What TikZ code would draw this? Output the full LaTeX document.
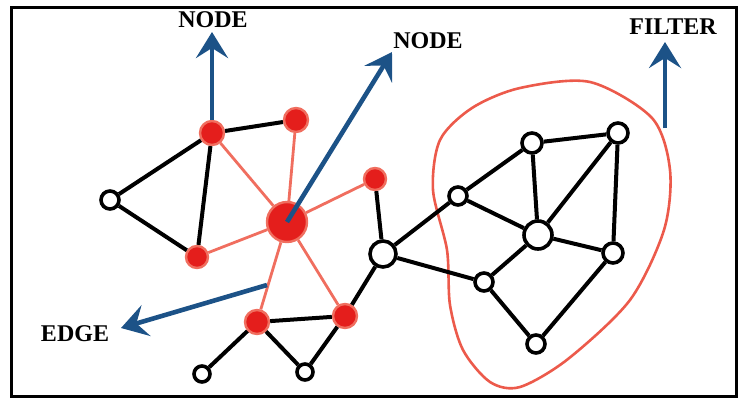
\documentclass[tikz,border=0pt]{standalone}
\usepackage{fontspec}
\setmainfont{Liberation Serif}
\usetikzlibrary{arrows.meta}
\definecolor{nodered}{RGB}{228,30,28}
\definecolor{edgered}{RGB}{240,110,95}
\definecolor{arrowblue}{RGB}{28,82,135}
\definecolor{filterred}{RGB}{236,90,75}
\tikzset{
  plain/.style={circle, draw=black, line width=3.6pt, fill=white, inner sep=0pt, minimum size=#1},
  hot/.style={circle, draw=edgered, line width=2.4pt, fill=nodered, inner sep=0pt, minimum size=#1},
  tag/.style={font=\bfseries\fontsize{24}{24}\selectfont, inner sep=0pt},
  pointer/.style={arrowblue, line width=4.6pt, -{Stealth[length=26pt, width=32pt, inset=10pt]}},
}
\begin{document}
\begin{tikzpicture}[x=1pt, y=-1pt]
      \useasboundingbox (0,0) rectangle (738,399);
      \draw[line width=3pt] (11,7) rectangle (736,396);
      % filter region
      \draw[filterred, line width=2.6pt] plot[smooth cycle] coordinates {
        (440,140) (433,190) (447,250) (450,305) (463,350) (490,382)
        (520,387) (568,359) (630,300) (664,230) (670,170) (652,118)
        (590,82) (520,88) (472,108)};
      \draw
        (212,133) node[hot=24pt] (r1){}
        (296,120) node[hot=24pt] (r2){}
        (287,222) node[hot=40pt] (rc){}
        (375,179) node[hot=22pt] (r3){}
        (197,257) node[hot=22pt] (r4){}
        (257,322) node[hot=24pt] (r5){}
        (345,316) node[hot=24pt] (r6){}
        (110,200) node[plain=18pt] (w1){}
        (202,374) node[plain=16pt] (w2){}
        (305,372) node[plain=16pt] (w3){}
        (383,254) node[plain=26pt] (w4){}
        (458,196) node[plain=18pt] (w5){}
        (532,143) node[plain=20pt] (w6){}
        (618,133) node[plain=20pt] (w7){}
        (538,235) node[plain=28pt] (w8){}
        (613,253) node[plain=20pt] (w9){}
        (484,282) node[plain=18pt] (w10){}
        (536,344) node[plain=18pt] (w11){};
      \begin{scope}[-, line width=4pt]
        \draw (r1) to (r2);
        \draw (r1) to (w1);
        \draw (r1) to (r4);
        \draw (w1) to (r4);
        \draw (r5) to (r6);
        \draw (r5) to (w2);
        \draw (r5) to (w3);
        \draw (r6) to (w3);
        \draw (r6) to (w4);
        \draw (r3) to (w4);
        \draw (w4) to (w5);
        \draw (w4) to (w10);
        \draw (w5) to (w6);
        \draw (w5) to (w8);
        \draw (w6) to (w7);
        \draw (w6) to (w8);
        \draw (w7) to (w8);
        \draw (w7) to (w9);
        \draw (w8) to (w9);
        \draw (w8) to (w10);
        \draw (w10) to (w11);
        \draw (w9) to (w11);
      \end{scope}
      \begin{scope}[-, edgered, line width=2.8pt]
        \draw (rc) to (r1);
        \draw (rc) to (r2);
        \draw (rc) to (r3);
        \draw (rc) to (r4);
        \draw (rc) to (r5);
        \draw (rc) to (r6);
      \end{scope}
      % labels and pointers
      \node[tag] (node1) at (213,20) {NODE};
      \node[tag] (node2) at (428,41) {NODE};
      \node[tag] (filter) at (673,27) {FILTER};
      \node[tag] (edge) at (75,334) {EDGE};
      \coordinate (tip1) at (212,32);
      \coordinate (tip2) at (392,52);
      \coordinate (base3) at (665,128);
      \coordinate (tip3) at (665,42);
      \coordinate (base4) at (267,285);
      \coordinate (tip4) at (121,328);
      \draw[pointer] (r1.north) to (tip1);
      \draw[pointer] (rc.center) to (tip2);
      \draw[pointer] (base3) to (tip3);
      \draw[pointer] (base4) to (tip4);
    \end{tikzpicture}
\end{document}
